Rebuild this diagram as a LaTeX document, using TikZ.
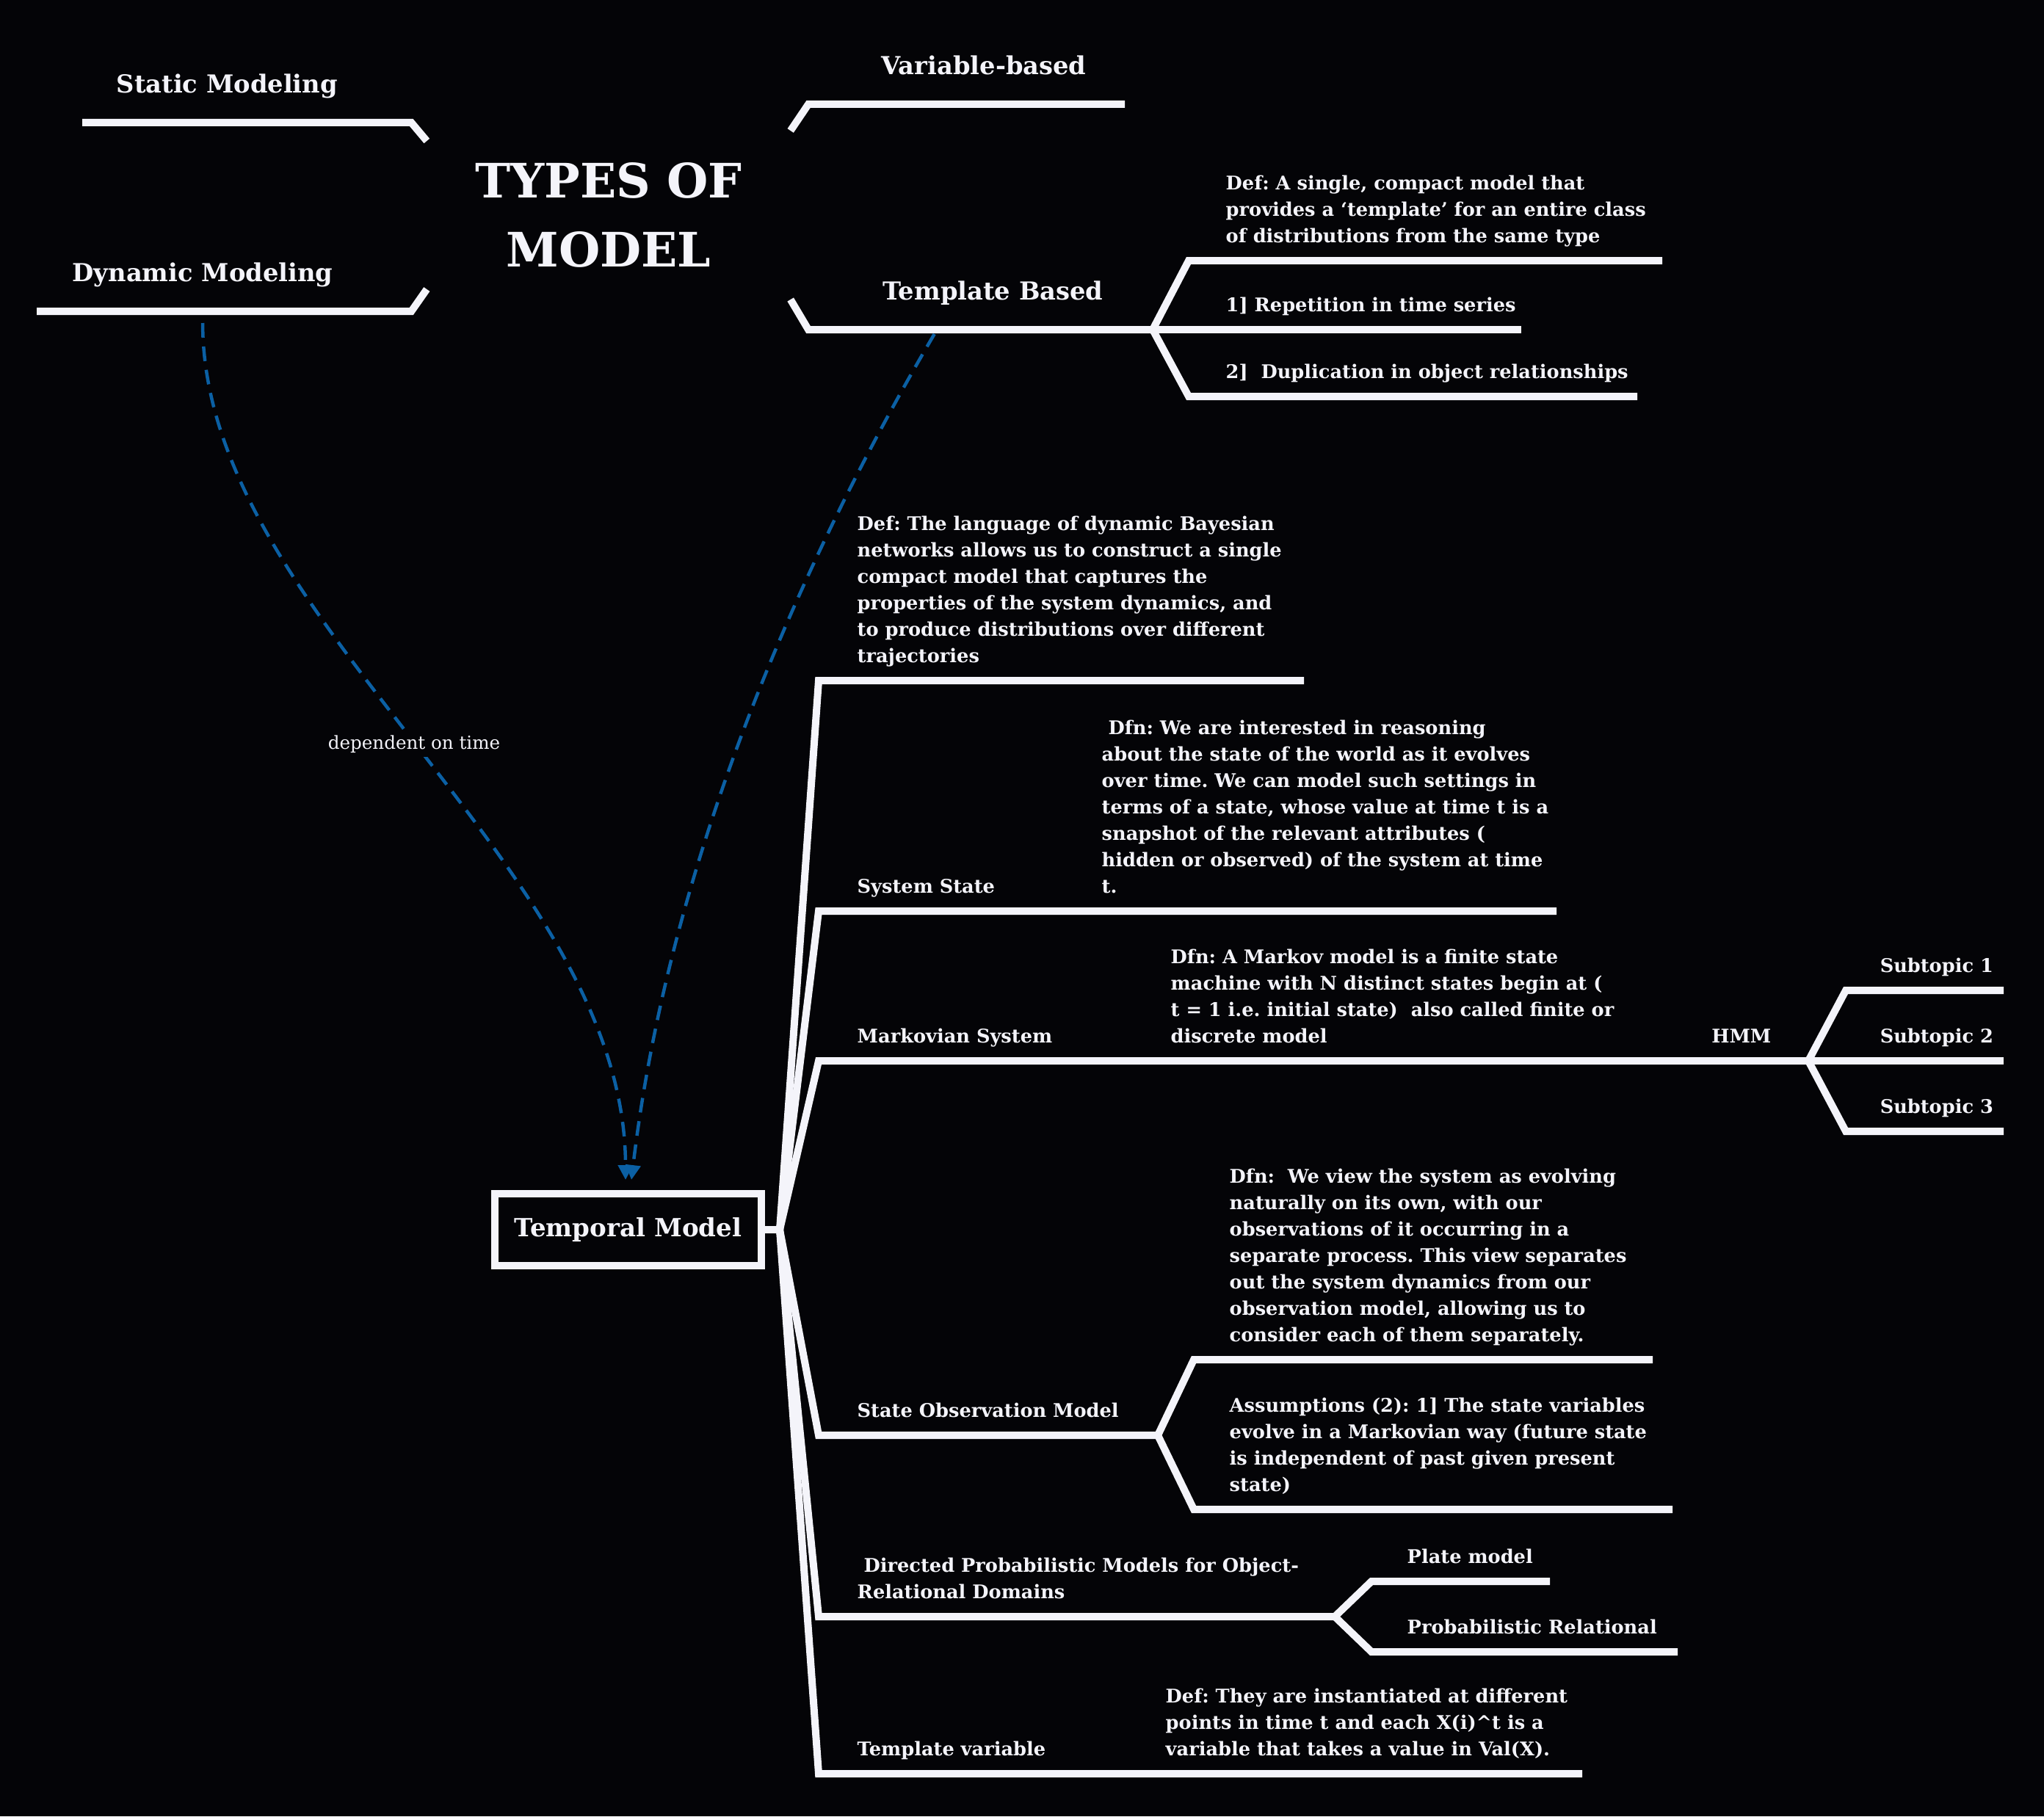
\documentclass[tikz,border=0pt]{standalone}
\usepackage{fontspec}
\setmainfont{DejaVu Serif}
\usepackage{tikz}
\usetikzlibrary{positioning, arrows.meta, calc}
\definecolor{mmbg}{HTML}{040407}
\definecolor{mmwhite}{HTML}{F4F4FA}
\definecolor{mmblue}{HTML}{0B60A4}
\newcommand{\lastdepth}{\rule[-3pt]{0pt}{3pt}}
\frenchspacing

\begin{document}
\begin{tikzpicture}[
  branch/.style={draw=mmwhite, line width=1mm, line join=miter},
  topic/.style={
    anchor=south west, inner sep=0pt, align=left, text=mmwhite,
    font=\fontsize{7.3}{10.24}\selectfont\bfseries,
    execute at end node=\lastdepth
  },
  maintopic/.style={topic, font=\fontsize{9.6}{12}\selectfont\bfseries},
  central/.style={
    text=mmwhite, align=center, inner sep=0pt,
    minimum width=4.94cm, minimum height=2.3cm,
    font=\fontsize{18.4}{27}\selectfont\bfseries
  },
  box/.style={
    draw=mmwhite, line width=1mm, text=mmwhite,
    minimum width=3.63cm, minimum height=0.98cm,
    font=\fontsize{9.7}{12}\selectfont\bfseries
  },
  dep/.style={draw=mmblue, line width=0.45mm, dash pattern=on 2mm off 1.2mm,
    -{Triangle[length=2mm, width=2mm]}},
  deplabel/.style={fill=mmbg, text=mmwhite, inner sep=1.5pt, font=\fontsize{7}{8}\selectfont},
]

\fill[mmbg] (0,0) rectangle (27.84,-24.74);
\useasboundingbox (0,0) rectangle (27.84,-24.74);

\node[central] (title) at (8.29,-2.93) {TYPES OF\\MODEL};

% left side
\coordinate (staticL) at (1.12,-1.67);
\coordinate (dynL) at (0.50,-4.24);
\draw[branch] ($(title.west)+(0,1.01)$) -- ++(-0.21,0.25) -- (staticL);
\draw[branch] ($(title.west)+(0,-1.01)$) -- ++(-0.21,-0.30) -- (dynL);
\node[maintopic, above right=0.29cm and 0.46cm of staticL] (static) {Static Modeling};
\node[maintopic, above right=0.29cm and 0.48cm of dynL] (dyn) {Dynamic Modeling};

% right side
\coordinate (varL) at (11.01,-1.42);
\coordinate (tbL) at (11.01,-4.49);
\coordinate (jtb) at (15.70,-4.49);
\draw[branch] ($(title.east)+(0,1.15)$) -- (varL) -- ++(4.31,0);
\draw[branch] ($(title.east)+(0,-1.15)$) -- (tbL) -- (jtb);
\node[maintopic, above right=0.29cm and 0.99cm of varL] (var) {Variable-based};
\node[maintopic, above right=0.29cm and 1.01cm of tbL] (tb) {Template Based};

\coordinate (tbdefL) at (16.19,-3.55);
\coordinate (tbdupL) at (16.19,-5.40);
\draw[branch] (jtb) -- (tbdefL) -- ++(6.45,0);
\draw[branch] (jtb) -- ++(5.02,0);
\draw[branch] (jtb) -- (tbdupL) -- ++(6.11,0);
\node[topic, above right=0.13cm and 0.50cm of tbdefL] (tbdef) {Def: A single, compact model that\\provides a `template' for an entire class\\of distributions from the same type};
\node[topic, above right=0.13cm and 0.99cm of jtb] (tbrep) {1] Repetition in time series};
\node[topic, above right=0.13cm and 0.50cm of tbdupL] (tbdup) {2]~ Duplication in object relationships};

% temporal model
\node[box] (temporal) at (8.555,-16.75) {Temporal Model};
\coordinate (thub) at ($(temporal.east)+(0.2,0)$);
\coordinate (bdbn) at (11.15,-9.27);
\coordinate (bstate) at (11.15,-12.41);
\coordinate (bmark) at (11.15,-14.45);
\coordinate (bobs) at (11.15,-19.55);
\coordinate (bdir) at (11.15,-22.02);
\coordinate (bvar) at (11.15,-24.16);
\coordinate (jhmm) at (24.63,-14.45);
\coordinate (jobs) at (15.77,-19.55);
\coordinate (jdir) at (18.18,-22.02);

\draw[branch] (temporal.east) -- (thub);
\draw[branch] (thub) -- (bdbn) -- ++(6.61,0);
\draw[branch] (thub) -- (bstate) -- ++(10.05,0);
\draw[branch] (thub) -- (bmark) -- (jhmm);
\draw[branch] (thub) -- (bobs) -- (jobs);
\draw[branch] (thub) -- (bdir) -- (jdir);
\draw[branch] (thub) -- (bvar) -- ++(10.40,0);

\node[topic, above right=0.13cm and 0.52cm of bdbn] (dbn) {Def: The language of dynamic Bayesian\\networks allows us to construct a single\\compact model that captures the\\properties of the system dynamics, and\\to produce distributions over different\\trajectories};
\node[topic, above right=0.13cm and 0.52cm of bstate] (state) {System State};
\node[topic, above right=0.13cm and 3.85cm of bstate] (statedef) {\ Dfn: We are interested in reasoning\\about the state of the world as it evolves\\over time. We can model such settings in\\terms of a state, whose value at time t is a\\snapshot of the relevant attributes (\\hidden or observed) of the system at time\\t.};
\node[topic, above right=0.13cm and 0.52cm of bmark] (mark) {Markovian System};
\node[topic, above right=0.13cm and 4.79cm of bmark] (markdef) {Dfn: A Markov model is a finite state\\machine with N distinct states begin at (\\t = 1 i.e. initial state)~ also called finite or\\discrete model};
\node[topic, above left=0.13cm and 0.50cm of jhmm] (hmm) {HMM};

% HMM subtopics
\coordinate (sub1L) at (25.14,-13.49);
\coordinate (sub3L) at (25.14,-15.41);
\draw[branch] (jhmm) -- (sub1L) -- ++(2.15,0);
\draw[branch] (jhmm) -- ++(2.66,0);
\draw[branch] (jhmm) -- (sub3L) -- ++(2.15,0);
\node[topic, above right=0.13cm and 0.46cm of sub1L] (sub1) {Subtopic 1};
\node[topic, above right=0.13cm and 0.97cm of jhmm] (sub2) {Subtopic 2};
\node[topic, above right=0.13cm and 0.46cm of sub3L] (sub3) {Subtopic 3};

% state observation model
\coordinate (obsdefL) at (16.26,-18.52);
\coordinate (obsassL) at (16.26,-20.56);
\draw[branch] (jobs) -- (obsdefL) -- ++(6.25,0);
\draw[branch] (jobs) -- (obsassL) -- ++(6.52,0);
\node[topic, above right=0.13cm and 0.52cm of bobs] (obs) {State Observation Model};
\node[topic, above right=0.13cm and 0.48cm of obsdefL] (obsdef) {Dfn:~ We view the system as evolving\\naturally on its own, with our\\observations of it occurring in a\\separate process. This view separates\\out the system dynamics from our\\observation model, allowing us to\\consider each of them separately.};
\node[topic, above right=0.13cm and 0.48cm of obsassL] (obsass) {Assumptions (2): 1] The state variables\\evolve in a Markovian way (future state\\is independent of past given present\\state)};

% object-relational
\coordinate (plateL) at (18.68,-21.54);
\coordinate (prmL) at (18.68,-22.50);
\draw[branch] (jdir) -- (plateL) -- ++(2.43,0);
\draw[branch] (jdir) -- (prmL) -- ++(4.17,0);
\node[topic, above right=0.13cm and 0.52cm of bdir] (dir) {\ Directed Probabilistic Models for Object-\\Relational Domains};
\node[topic, above right=0.13cm and 0.48cm of plateL] (plate) {Plate model};
\node[topic, above right=0.13cm and 0.48cm of prmL] (prm) {Probabilistic Relational};

\node[topic, above right=0.13cm and 0.52cm of bvar] (tvar) {Template variable};
\node[topic, above right=0.13cm and 4.72cm of bvar] (tvardef) {Def: They are instantiated at different\\points in time t and each X(i)\textasciicircum t is a\\variable that takes a value in Val(X).};

% Relations
\draw[dep] ($(dyn.south)+(0,-0.45)$) .. controls +(0,-4.0) and +(0,4.27) .. ($(temporal.north)+(-0.035,0.14)$)
  node[deplabel, pos=0.5] {dependent on time};
\draw[dep] ($(tb.south)+(-0.80,-0.35)$) .. controls +(-1.21,-2.05) and +(0.6,5.07) .. ($(temporal.north)+(0.045,0.14)$);

\end{tikzpicture}
\end{document}
